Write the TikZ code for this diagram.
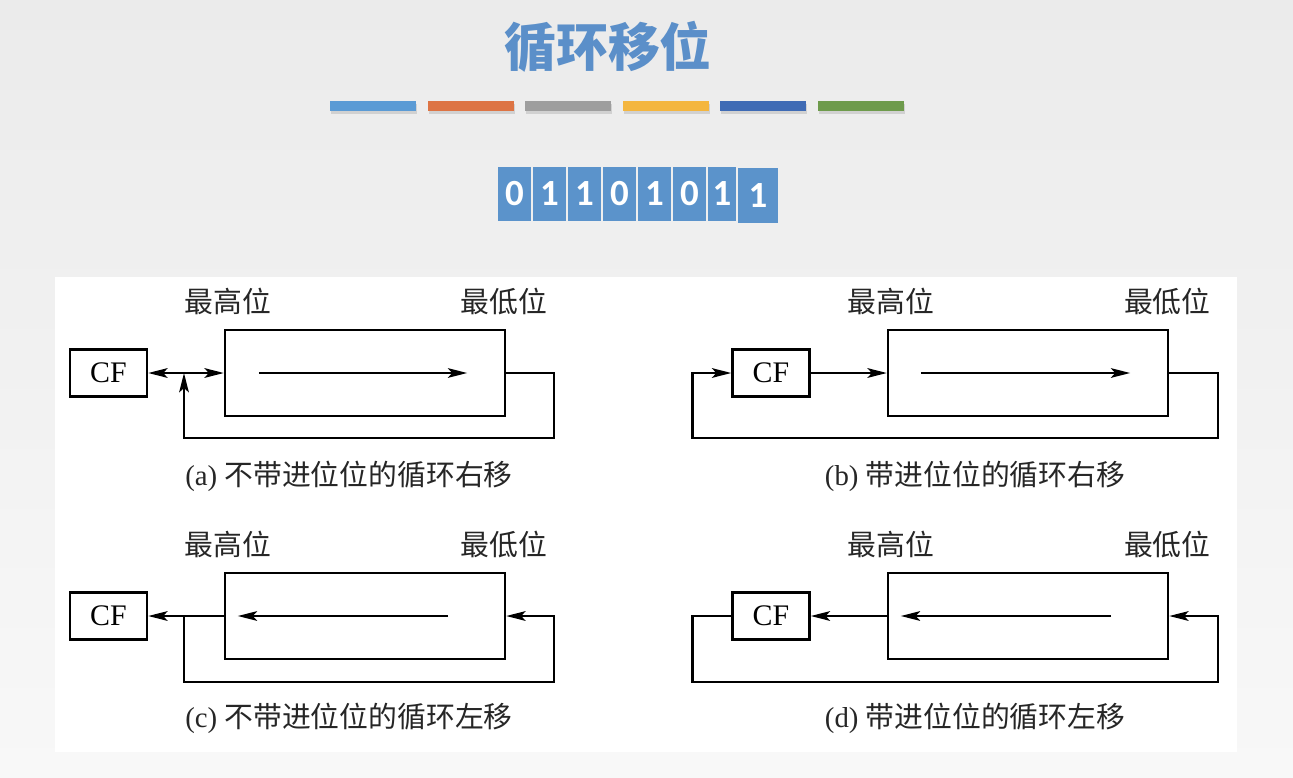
\documentclass[tikz,border=0pt]{standalone}
\usepackage{fontspec}
\setmainfont{Liberation Serif}
\newfontfamily\cjk{Noto Sans CJK SC}
\newfontfamily\digitfont{Carlito}
\usepackage{xcolor}
\usetikzlibrary{arrows.meta}
\usetikzlibrary{positioning}
\usetikzlibrary{calc}

\definecolor{bgtop}{HTML}{EBEBEB}
\definecolor{bgbottom}{HTML}{F8F8F8}
\definecolor{titleblue}{HTML}{5B8FC9}
\definecolor{bitblue}{HTML}{5B93CB}
\definecolor{barblue}{HTML}{5B9BD5}
\definecolor{barorange}{HTML}{DD7444}
\definecolor{bargray}{HTML}{9E9E9E}
\definecolor{baryellow}{HTML}{F4B63F}
\definecolor{bardarkblue}{HTML}{3F6BB5}
\definecolor{bargreen}{HTML}{6E9B4C}

\tikzset{
	reg/.style={draw, line width=1.4pt, minimum width=5.6cm, minimum height=1.72cm, inner sep=0pt},
	cfbox/.style={draw, line width=1.4pt, minimum width=1.54cm, minimum height=0.94cm, inner sep=0pt, font=\fontsize{17}{17}\selectfont},
	wire/.style={line width=1.4pt},
	tip/.tip={Stealth[length=11pt,width=5.5pt,inset=2.5pt]},
	arr/.style={wire, -tip},
	posname/.style={font=\cjk\fontsize{16.4}{17}\selectfont, text=black!85},
	caption/.style={font=\fontsize{16.4}{17}\selectfont, text=black!85},
	bitcell/.style={fill=bitblue, text=white, minimum height=1.1cm, inner sep=0pt, font=\digitfont\bfseries\fontsize{21}{21}\selectfont},
}

\begin{document}
\begin{tikzpicture}[x=0.02cm, y=-0.02cm]
	\useasboundingbox (0,0) rectangle (1293,777);
	%background
	\fill[top color=bgtop, bottom color=bgbottom] (0,0) rectangle (1293,777);
	\fill[white] (55,277) rectangle (1237,752);
	
	%title and bars
	\node[text=titleblue, font=\cjk\bfseries\fontsize{29.5}{30}\selectfont] (title) at (608,47) {循环移位};
	\foreach \c [count=\i from 0] in {barblue,barorange,bargray,baryellow,bardarkblue,bargreen} {
		\fill[black!18] (331+97.6*\i,104) rectangle ++(86,10);
		\fill[\c] (330+97.6*\i,101) rectangle ++(86,10);
	}
	
	%bits
	\foreach \b/\xc/\w [count=\i] in {0/514.5/33, 1/549.5/33, 1/584.5/33, 0/619.5/33, 1/654.5/33, 0/689.5/33, 1/722/28}
		\node[bitcell, minimum width=\w*0.02cm] (bit\i) at (\xc,194) {\b};
	\node[bitcell, minimum width=0.8cm, minimum height=1.12cm] (bit8) at (758,195.5) {1};
	
	% (a)
	\node[reg] (regA) at (365,373) {};
	\node[cfbox] (cfA) at (108.5,373) {CF};
	\node[posname, above=0.15cm of regA.north west, xshift=0.08cm] (hiA) {最高位};
	\node[posname, above=0.15cm of regA.north east, xshift=-0.04cm] (loA) {最低位};
	\node[caption] (capA) at (349,476) {(a) {\cjk 不带进位位的循环右移}};
	\coordinate (jA) at (184,373);
	\draw[wire, tip-tip] (cfA.east) -- (regA.west);
	\draw[arr] (regA.east) -- ++(48,0) -- ++(0,65) -| (jA);
	\draw[arr] ($(regA.west)+(35,0)$) -- ($(regA.east)+(-39,0)$);
	
	% (b)
	\node[reg] (regB) at (1028,373) {};
	\node[cfbox] (cfB) at (771,373) {CF};
	\node[posname, above=0.15cm of regB.north west, xshift=0.08cm] (hiB) {最高位};
	\node[posname, above=0.15cm of regB.north east, xshift=-0.04cm] (loB) {最低位};
	\node[caption] (capB) at (975,476) {(b) {\cjk 带进位位的循环右移}};
	\draw[arr] (cfB.east) -- (regB.west);
	\draw[arr] (regB.east) -- ++(49,0) -- ++(0,65) -| ($(cfB.west)+(-39,0)$) -- (cfB.west);
	\draw[arr] ($(regB.west)+(34,0)$) -- ($(regB.east)+(-39,0)$);
	
	% (c)
	\node[reg] (regC) at (365,616) {};
	\node[cfbox] (cfC) at (108.5,616) {CF};
	\node[posname, above=0.15cm of regC.north west, xshift=0.08cm] (hiC) {最高位};
	\node[posname, above=0.15cm of regC.north east, xshift=-0.04cm] (loC) {最低位};
	\node[caption] (capC) at (349,718) {(c) {\cjk 不带进位位的循环左移}};
	\coordinate (jC) at (184,616);
	\draw[arr] (regC.west) -- (cfC.east);
	\draw[arr] (jC) -- ++(0,66) -| ($(regC.east)+(48,0)$) -- (regC.east);
	\draw[arr] ($(regC.east)+(-58,0)$) -- ($(regC.west)+(14,0)$);
	
	% (d)
	\node[reg] (regD) at (1028,616) {};
	\node[cfbox] (cfD) at (771,616) {CF};
	\node[posname, above=0.15cm of regD.north west, xshift=0.08cm] (hiD) {最高位};
	\node[posname, above=0.15cm of regD.north east, xshift=-0.04cm] (loD) {最低位};
	\node[caption] (capD) at (975,718) {(d) {\cjk 带进位位的循环左移}};
	\draw[arr] (regD.west) -- (cfD.east);
	\draw[arr] (cfD.west) -- ++(-39,0) -- ++(0,66) -| ($(regD.east)+(49,0)$) -- (regD.east);
	\draw[arr] ($(regD.east)+(-58,0)$) -- ($(regD.west)+(14,0)$);
\end{tikzpicture}
\end{document}
